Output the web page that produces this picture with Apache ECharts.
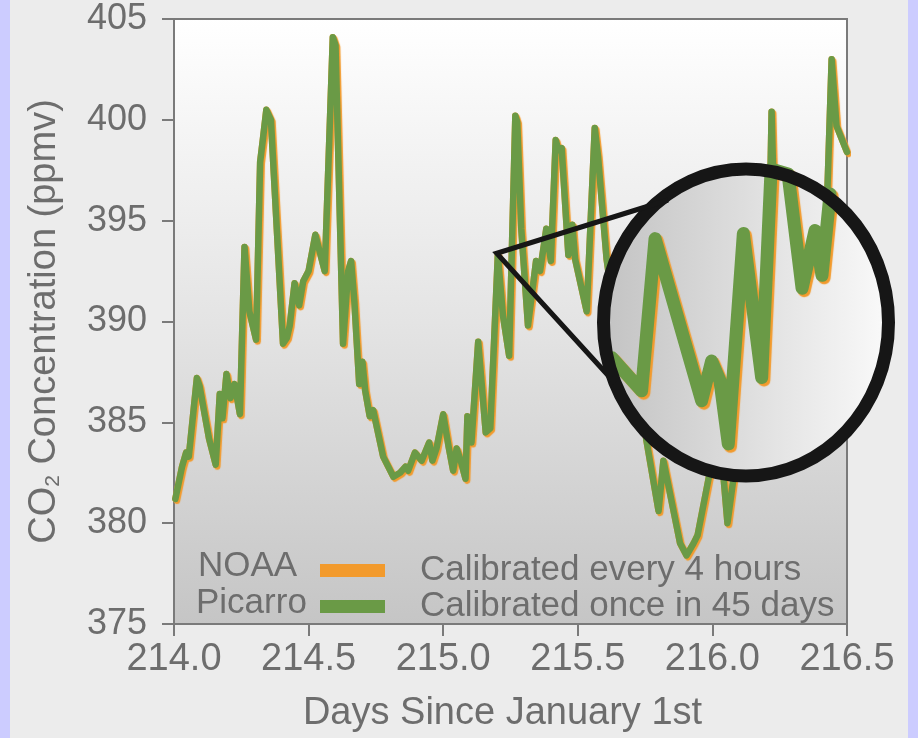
<!DOCTYPE html>
<html>
<head>
<meta charset="utf-8">
<script src="https://cdn.jsdelivr.net/npm/echarts@6/dist/echarts.min.js"></script>
<style>
  html, body { margin: 0; padding: 0; background: #ccccff; }
  #c { position: absolute; left: 10px; top: 0; width: 898px; height: 738px; }
</style>
</head>
<body>
<div id="c"></div>
<script>
// ---- data ----
const xTicks = [214.0, 214.5, 215.0, 215.5, 216.0, 216.5];
const yTicks = [375, 380, 385, 390, 395, 400, 405];

const days = [
  214.005, 214.03, 214.045, 214.055, 214.085, 214.095, 214.13, 214.155, 214.17, 214.18,
  214.195, 214.21, 214.225, 214.245, 214.262, 214.28, 214.305, 214.32, 214.33, 214.343,
  214.36, 214.405, 214.42, 214.43, 214.448, 214.465, 214.48, 214.5, 214.525, 214.56,
  214.59, 214.6, 214.628, 214.647, 214.658, 214.67, 214.688, 214.7, 214.71, 214.727,
  214.74, 214.777, 214.815, 214.84, 214.86, 214.87, 214.895, 214.92, 214.948, 214.96,
  214.975, 215.0, 215.02, 215.037, 215.05, 215.065, 215.083, 215.09, 215.105, 215.13,
  215.158, 215.175, 215.203, 215.222, 215.245, 215.268, 215.275, 215.29, 215.315, 215.345,
  215.36, 215.383, 215.4, 215.418, 215.428, 215.44, 215.465, 215.48, 215.49, 215.533,
  215.563, 215.575, 215.607, 215.64, 215.68, 215.72, 215.755, 215.8, 215.818, 215.88,
  215.904, 215.93, 215.945, 215.99, 216.01, 216.04, 216.056, 216.077, 216.1, 216.14,
  216.2, 216.22, 216.235, 216.28, 216.32, 216.36, 216.42, 216.443, 216.461, 216.5
];
const picarroPpm = [
  381.2, 382.8, 383.5, 383.3, 387.2, 386.8, 384.2, 382.9, 386.4, 385.2,
  387.4, 386.2, 386.9, 385.4, 393.7, 390.5, 389.1, 397.9, 399.0, 400.5,
  400.0, 388.9, 389.2, 389.8, 391.9, 390.8, 392.0, 392.5, 394.3, 392.5,
  404.1, 403.7, 388.9, 392.5, 393.0, 391.0, 386.9, 388.0, 386.6, 385.3,
  385.6, 383.3, 382.3, 382.5, 382.8, 382.6, 383.5, 383.1, 384.0, 383.1,
  383.7, 385.4, 383.8, 382.6, 383.7, 383.1, 382.2, 385.3, 384.0, 389.0,
  384.5, 384.7, 393.3, 390.3, 388.3, 400.2, 399.9, 394.6, 389.8, 393.0,
  392.5, 394.6, 393.0, 399.0, 398.5, 398.6, 393.3, 394.8, 393.1, 390.5,
  399.6, 398.2, 393.1, 390.0, 392.0, 387.5, 384.1, 380.6, 383.1, 379.0,
  378.4, 379.0, 379.4, 382.5, 386.0, 382.5, 380.0, 382.1, 387.0, 389.0,
  386.0, 400.4, 392.5, 390.5, 394.0, 392.0, 393.5, 403.0, 399.7, 398.4
];
const noaaPpm = [
  381.2, 382.8, 383.5, 383.3, 387.2, 386.8, 384.2, 382.9, 386.4, 385.2,
  387.4, 386.2, 386.9, 385.4, 393.7, 390.5, 389.1, 397.9, 399.0, 400.5,
  400.0, 388.9, 389.2, 389.8, 391.9, 390.8, 392.0, 392.5, 394.3, 392.5,
  404.1, 403.7, 388.9, 392.5, 393.0, 391.0, 386.9, 388.0, 386.6, 385.3,
  385.6, 383.3, 382.3, 382.5, 382.8, 382.6, 383.5, 383.1, 384.0, 383.1,
  383.7, 385.4, 383.8, 382.6, 383.7, 383.1, 382.2, 385.3, 384.0, 389.0,
  384.5, 384.7, 393.3, 390.3, 388.3, 400.2, 399.9, 394.6, 389.8, 393.0,
  392.5, 394.6, 393.0, 399.0, 398.5, 398.6, 393.3, 394.8, 393.1, 390.5,
  399.6, 398.2, 393.1, 390.0, 392.0, 387.5, 384.1, 380.6, 383.1, 379.0,
  378.4, 379.0, 379.4, 382.5, 386.0, 382.5, 380.0, 382.1, 387.0, 389.0,
  386.0, 400.4, 392.5, 390.5, 394.0, 392.0, 393.5, 403.0, 399.7, 398.4
];
// magnified trace drawn inside the lens
const lensDays = [215.627, 215.737, 215.787, 215.960, 215.997, 216.028, 216.059, 216.115,
  216.183, 216.218, 216.281, 216.333, 216.381, 216.407, 216.437];
const lensPpm = [388.2, 386.56, 394.11, 386.07, 388.04, 387.07, 383.93, 394.36,
  387.22, 397.56, 397.32, 391.65, 394.51, 392.29, 396.33];

const seriesNames = ['NOAA', 'Picarro'];
const seriesNotes = ['Calibrated every 4 hours', 'Calibrated once in 45 days'];

// ---- styling ----
const FONT = 'Liberation Sans, Arial, sans-serif';
const TXT = '#6d6d6d';
const AX = '#7a7a7a';
const ORANGE = '#f29a2c';
const GREEN = '#6a9a46';

const pairs = (xs, ys) => xs.map((x, i) => [x, ys[i]]);

const chart = echarts.init(document.getElementById('c'));
chart.setOption({
  backgroundColor: '#ececec',
  animation: false,
  textStyle: { fontFamily: FONT },
  grid: {
    left: 164, top: 19, width: 673, height: 609,
    show: true,
    borderColor: AX, borderWidth: 2,
    backgroundColor: {
      type: 'linear', x: 0, y: 0, x2: 0, y2: 1,
      colorStops: [
        { offset: 0, color: '#ffffff' },
        { offset: 0.5, color: '#e4e4e4' },
        { offset: 1, color: '#c5c5c5' }
      ]
    }
  },
  xAxis: {
    type: 'value',
    min: xTicks[0], max: xTicks[xTicks.length - 1], interval: 0.5,
    name: 'Days Since January 1st',
    nameLocation: 'middle', nameGap: 71,
    nameTextStyle: { fontSize: 38, color: TXT, fontFamily: FONT, padding: [0, 16, 0, 0] },
    axisLine: { show: true, onZero: false, lineStyle: { color: AX, width: 2 } },
    axisTick: { show: true, length: 12, lineStyle: { color: AX, width: 2 } },
    axisLabel: { fontSize: 38, color: TXT, margin: 17, formatter: v => v.toFixed(1) },
    splitLine: { show: false }
  },
  yAxis: {
    type: 'value',
    min: yTicks[0], max: yTicks[yTicks.length - 1], interval: 5,
    name: 'CO{sub|2} Concentration (ppmv)',
    nameLocation: 'middle', nameGap: 110, nameRotate: 90,
    nameTextStyle: {
      fontSize: 38, color: TXT, fontFamily: FONT,
      rich: { sub: { fontSize: 21, color: TXT, fontFamily: FONT, verticalAlign: 'bottom', padding: [15, 0, 0, 0] } }
    },
    axisLine: { show: true, onZero: false, lineStyle: { color: AX, width: 2 } },
    axisTick: { show: true, length: 12, lineStyle: { color: AX, width: 2 } },
    axisLabel: { fontSize: 36, color: TXT, margin: 27 },
    splitLine: { show: false }
  },
  legend: {
    data: seriesNames,
    orient: 'vertical',
    left: 305, top: 548,
    itemWidth: 65, itemHeight: 13, itemGap: 1,
    icon: 'rect',
    z: 1,
    selectedMode: false,
    formatter: name => '{d|' + seriesNotes[seriesNames.indexOf(name)] + '}',
    textStyle: {
      fontSize: 35, color: TXT, fontFamily: FONT,
      rich: { d: { fontSize: 35, color: TXT, fontFamily: FONT, padding: [0, 0, 0, 30], lineHeight: 37 } }
    }
  },
  series: [
    {
      name: seriesNames[0], type: 'line', data: pairs(days, noaaPpm),
      showSymbol: false, symbol: 'none', z: 2,
      itemStyle: { color: ORANGE },
      lineStyle: { color: ORANGE, width: 6.5, join: 'round', cap: 'round',
        shadowColor: ORANGE, shadowOffsetX: 1.6, shadowOffsetY: 1.8, shadowBlur: 1 }
    },
    {
      name: seriesNames[1], type: 'line', data: pairs(days, picarroPpm),
      showSymbol: false, symbol: 'none', z: 2,
      itemStyle: { color: GREEN },
      lineStyle: { color: GREEN, width: 6.5, join: 'round', cap: 'round' }
    },
    {
      name: 'lens', type: 'line', data: pairs(lensDays, lensPpm),
      showSymbol: false, symbol: 'none', z: 4, silent: true,
      itemStyle: { color: GREEN },
      lineStyle: { color: GREEN, width: 13, join: 'round', cap: 'round',
        shadowColor: ORANGE, shadowOffsetX: 2.2, shadowOffsetY: 2.4, shadowBlur: 1 }
    }
  ],
  graphic: [
    { type: 'text', z: 3, style: { x: 188, y: 566, text: seriesNames[0], font: '35px ' + FONT, fill: TXT, verticalAlign: 'middle' } },
    { type: 'text', z: 3, style: { x: 186, y: 603, text: seriesNames[1], font: '35px ' + FONT, fill: TXT, verticalAlign: 'middle' } },
    {
      type: 'ellipse', z: 3, silent: true,
      shape: { cx: 736, cy: 322.5, rx: 143, ry: 154 },
      style: {
        fill: {
          type: 'linear', x: 0, y: 0, x2: 1, y2: 0,
          colorStops: [
            { offset: 0, color: '#c3c3c3' },
            { offset: 0.5, color: '#dedede' },
            { offset: 1, color: '#fafafa' }
          ]
        }
      }
    },
    {
      type: 'ellipse', z: 5, silent: true,
      shape: { cx: 736, cy: 322.5, rx: 142.5, ry: 153.5 },
      style: { fill: 'none', stroke: '#161616', lineWidth: 13 }
    },
    {
      type: 'polyline', z: 5, silent: true,
      shape: { points: [[658, 200], [486.7, 253.3], [605, 383]] },
      style: { fill: 'none', stroke: '#161616', lineWidth: 5, lineJoin: 'miter' }
    }
  ]
});
</script>
</body>
</html>
